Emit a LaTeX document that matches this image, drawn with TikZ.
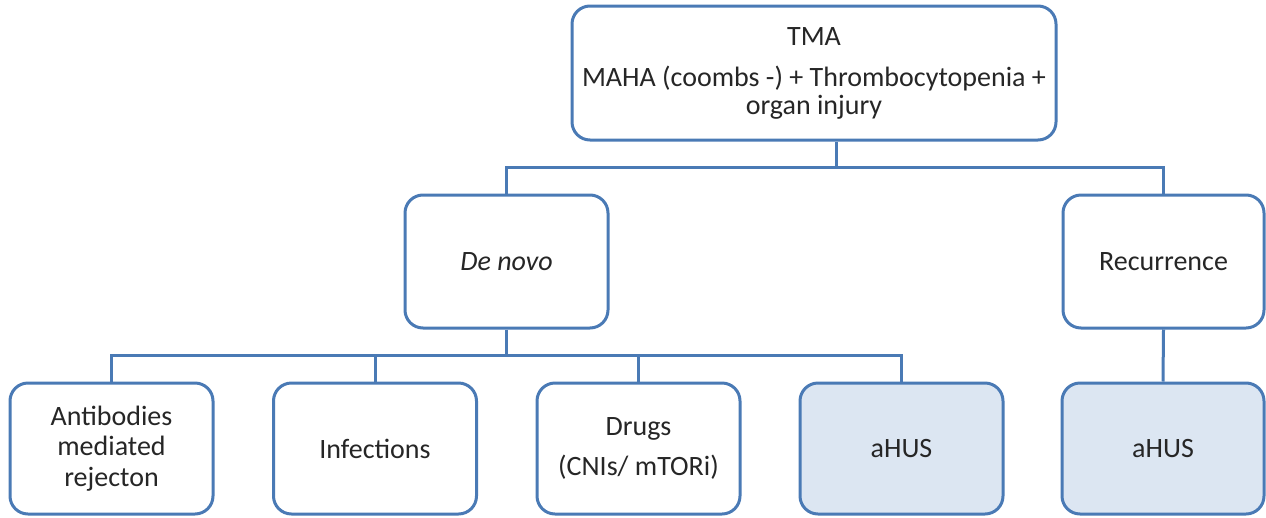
\documentclass[tikz,border=0pt]{standalone}
\usepackage{fontspec}
\setmainfont{Carlito}
\definecolor{edge}{HTML}{4A7AB5}
\definecolor{lightfill}{HTML}{DCE6F2}
\definecolor{txt}{HTML}{262626}
\begin{document}
\begin{tikzpicture}[x=1pt,y=-1pt,
  box/.style={draw=edge, line width=3pt, rounded corners=18pt, fill=white,
    align=center, text=txt, inner sep=0pt, font=\fontsize{28}{30.5}\selectfont},
  hl/.style={box, fill=lightfill},
  link/.style={draw=edge, line width=3pt}]
\useasboundingbox (0,0) rectangle (1266,517);
\node[box, minimum width=484pt, minimum height=134pt] (tma) at (814,73)
  {TMA\\[11pt]MAHA (coombs -) + Thrombocytopenia +\\[-3pt]organ injury};
\node[box, minimum width=203pt, minimum height=133pt] (denovo) at (506.5,261.5) {\textit{De novo}};
\node[box, minimum width=201pt, minimum height=133pt] (recur) at (1163.5,261.5) {Recurrence};
\node[box, minimum width=203pt, minimum height=131pt] (b1) at (111.5,448.5) {Antibodies\\mediated\\rejecton};
\node[box, minimum width=203pt, minimum height=131pt] (b2) at (375,448.5) {Infections};
\node[box, minimum width=203pt, minimum height=131pt] (b3) at (638.5,448.5) {Drugs\\[9pt](CNIs/ mTORi)};
\node[hl, minimum width=203pt, minimum height=131pt] (b4) at (901.5,448.5) {aHUS};
\node[hl, minimum width=202pt, minimum height=131pt] (b5) at (1163,448.5) {aHUS};
\coordinate (j1) at (836,167);
\coordinate (j2) at (506.5,355);
\draw[link] (j1 |- tma.south) -- (j1);
\draw[link] (denovo.north) |- (j1) -| (recur.north);
\draw[link] (denovo.south) -- (j2);
\draw[link] (b1.north) |- (j2) -| (b4.north);
\draw[link] (b2.north) -- (b2.north |- j2);
\draw[link] (b3.north) -- (b3.north |- j2);
\draw[link] (recur.south) -- (b5.north);
\end{tikzpicture}
\end{document}
